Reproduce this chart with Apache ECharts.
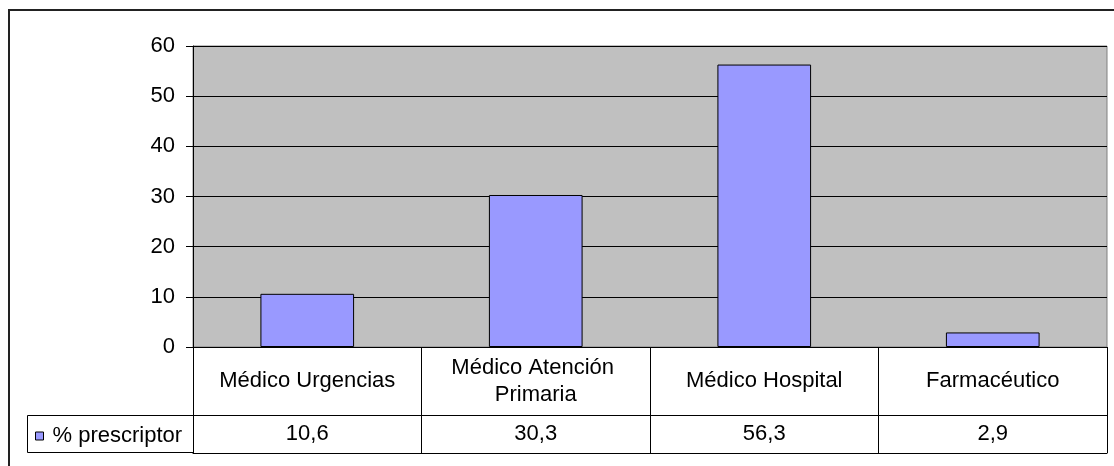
<!DOCTYPE html>
<html>
<head>
<meta charset="utf-8">
<script src="https://cdn.jsdelivr.net/npm/echarts@6/dist/echarts.min.js"></script>
<style>
html,body{margin:0;padding:0;background:#fff;}
#chart{width:1114px;height:466px;}
</style>
</head>
<body>
<div id="chart"></div>
<script>
const categories = ['Médico Urgencias', 'Médico Atención Primaria', 'Médico Hospital', 'Farmacéutico'];
const seriesName = '% prescriptor';
const values = [10.6, 30.3, 56.3, 2.9];
const yTicks = { min: 0, max: 60, interval: 10 };

const FONT = '"Liberation Sans", Arial, sans-serif';
const FS = 22;
const fmt = v => v.toFixed(1).replace('.', ',');

const chart = echarts.init(document.getElementById('chart'), null, { renderer: 'canvas' });
chart.setOption({
  animation: false,
  backgroundColor: '#fff',
  textStyle: { fontFamily: FONT },
  grid: {
    left: 193, top: 46, width: 914, height: 301,
    show: true, backgroundColor: '#C0C0C0', borderColor: '#808080', borderWidth: 1
  },
  legend: {
    show: true,
    data: [seriesName],
    left: 35, top: 425,
    padding: 0,
    icon: 'rect',
    itemWidth: 8, itemHeight: 8,
    itemStyle: { borderColor: '#000', borderWidth: 1 },
    textStyle: { fontSize: FS, color: '#000', fontFamily: FONT, padding: [0, 0, 0, 4] },
    selectedMode: false
  },
  xAxis: [
    {
      type: 'category', data: categories, position: 'bottom',
      axisLine: { show: true, lineStyle: { color: '#000', width: 1 } },
      axisTick: { show: true, length: 106, lineStyle: { color: '#000', width: 1 } },
      axisLabel: {
        interval: 0, margin: 34, verticalAlign: 'middle',
        fontSize: FS, color: '#000', fontFamily: FONT,
        width: 215, overflow: 'break', lineHeight: 27, align: 'center'
      },
      splitLine: { show: false }
    },
    {
      type: 'category', data: categories, position: 'bottom', offset: 68,
      axisLine: { show: true, lineStyle: { color: '#000', width: 1 } },
      axisTick: { show: false },
      axisLabel: {
        interval: 0, margin: 19, verticalAlign: 'middle',
        fontSize: FS, color: '#000', fontFamily: FONT,
        formatter: (val, idx) => fmt(values[idx])
      },
      splitLine: { show: false }
    },
    {
      type: 'category', data: categories, position: 'bottom', offset: 106,
      axisLine: { show: true, lineStyle: { color: '#000', width: 1 } },
      axisTick: { show: false },
      axisLabel: { show: false },
      splitLine: { show: false }
    }
  ],
  yAxis: {
    type: 'value', min: yTicks.min, max: yTicks.max, interval: yTicks.interval,
    axisLine: { show: true, lineStyle: { color: '#000', width: 1 } },
    axisTick: { show: true, length: 7, lineStyle: { color: '#000' } },
    axisLabel: { fontSize: FS, color: '#000', margin: 18, fontFamily: FONT },
    splitLine: { show: true, lineStyle: { color: '#000', width: 1 } }
  },
  series: [{
    name: seriesName,
    type: 'bar',
    xAxisIndex: 0,
    data: values,
    barWidth: '41%',
    itemStyle: { color: '#9999FF', borderColor: '#000', borderWidth: 1 }
  }],
  graphic: [
    {
      type: 'rect', silent: true, z: 100,
      shape: { x: 9, y: 10, width: 1200, height: 600 },
      style: { fill: 'none', stroke: '#222', lineWidth: 2 }
    },
    {
      type: 'rect', silent: true, z: 100,
      shape: { x: 27.5, y: 415.5, width: 166, height: 37 },
      style: { fill: 'none', stroke: '#000', lineWidth: 1 }
    }
  ]
});
</script>
</body>
</html>
